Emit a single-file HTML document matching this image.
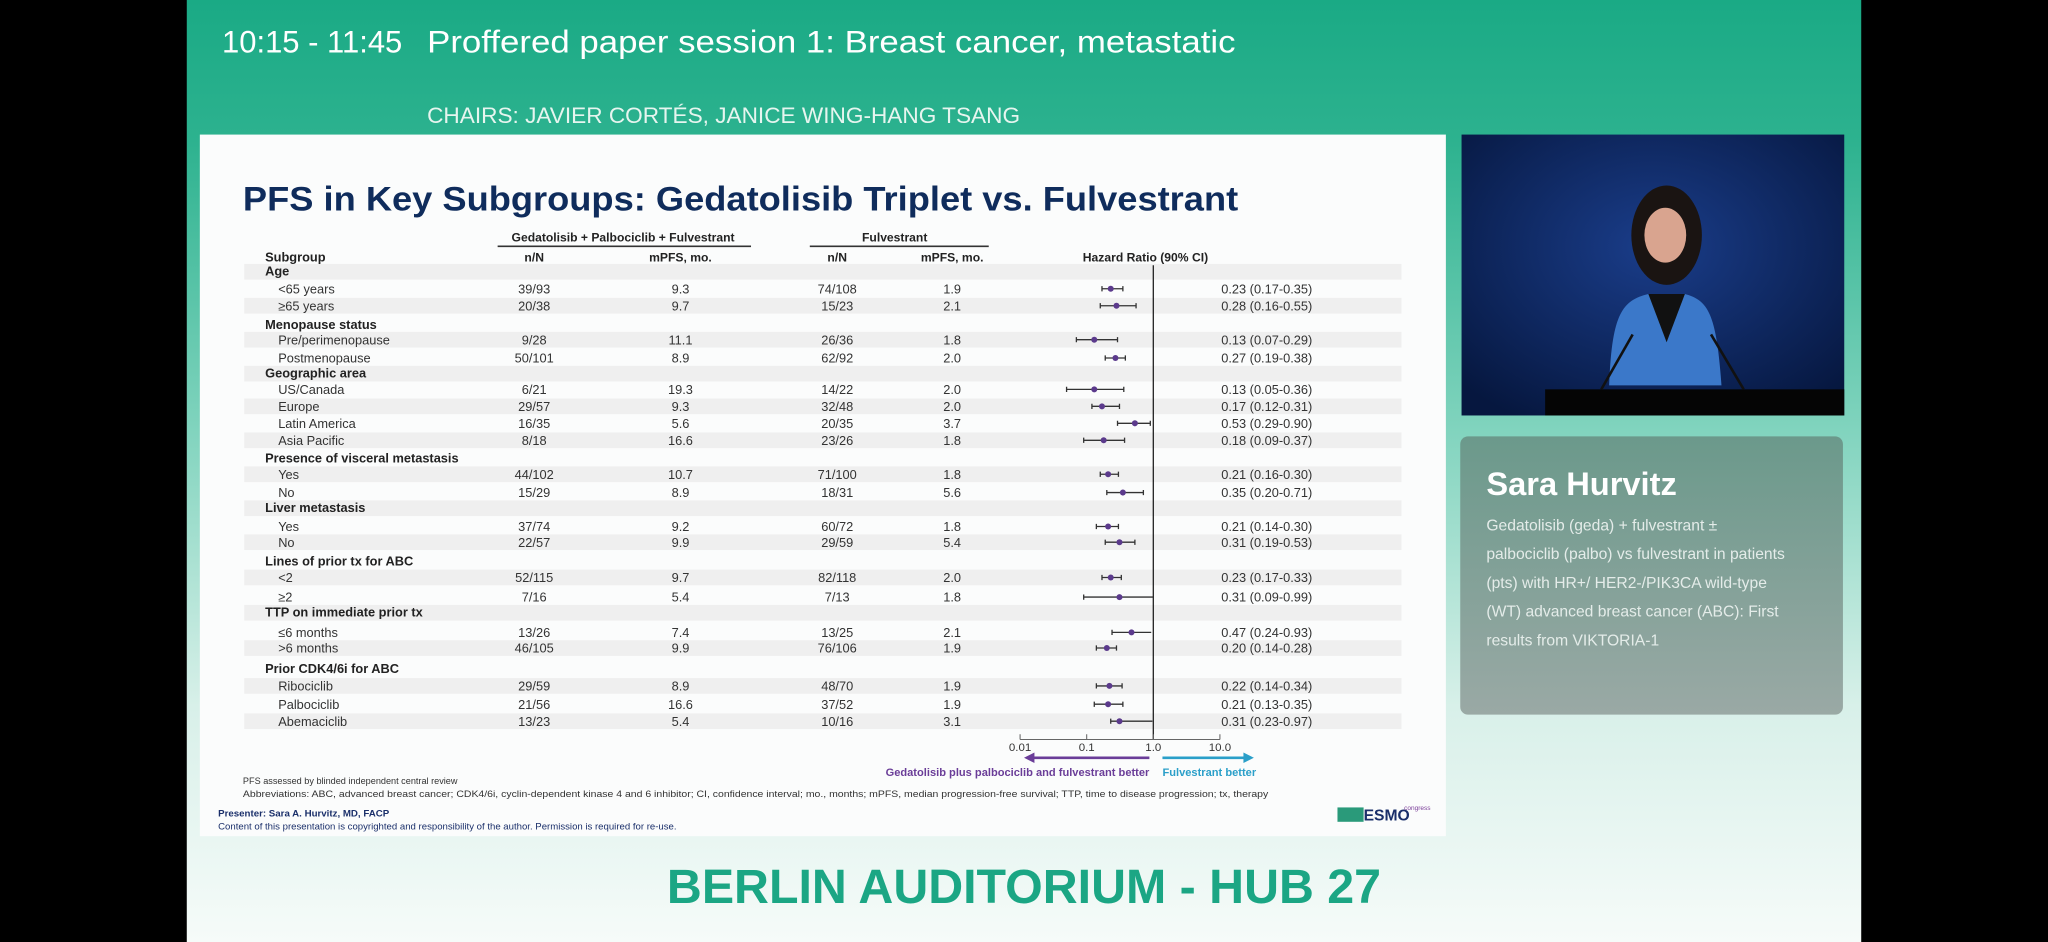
<!DOCTYPE html>
<html><head><meta charset="utf-8"><style>
html,body{margin:0;padding:0;background:#000;width:2048px;height:942px;overflow:hidden}
svg{display:block}
text{font-family:"Liberation Sans",Arial,sans-serif}
</style></head><body>
<svg width="2048" height="942" viewBox="0 0 1568 721" preserveAspectRatio="none" xmlns="http://www.w3.org/2000/svg">
<defs>
<linearGradient id="bg" x1="0" y1="0" x2="0" y2="1">
<stop offset="0" stop-color="#1aaa85"/><stop offset="0.15" stop-color="#2db28f"/><stop offset="0.45" stop-color="#7fd3bd"/><stop offset="0.75" stop-color="#d8f0e9"/><stop offset="1" stop-color="#f6fbf9"/>
</linearGradient>
<linearGradient id="card" x1="0" y1="0" x2="0" y2="1">
<stop offset="0" stop-color="#6b998b"/><stop offset="1" stop-color="#9aa9a5"/>
</linearGradient>
<radialGradient id="vid" cx="0.5" cy="0.4" r="0.7">
<stop offset="0" stop-color="#1a3d8a"/><stop offset="1" stop-color="#06173f"/>
</radialGradient>
</defs>
<rect x="0" y="0" width="1568" height="721" fill="#000"/>
<rect x="143" y="0" width="1282" height="721" fill="url(#bg)"/>
<text x="170" y="40" font-size="24" fill="#fff" textLength="138" lengthAdjust="spacingAndGlyphs">10:15 - 11:45</text>
<text x="327" y="40" font-size="24" fill="#fff" textLength="619" lengthAdjust="spacingAndGlyphs">Proffered paper session 1: Breast cancer, metastatic</text>
<text x="327" y="94" font-size="17" fill="#e6f5ef" textLength="454" lengthAdjust="spacingAndGlyphs">CHAIRS: JAVIER CORTÉS, JANICE WING-HANG TSANG</text>

<!-- slide -->
<rect x="153" y="103" width="954" height="537" fill="#fbfcfc"/>
<text x="186" y="161" font-size="26" font-weight="bold" fill="#0f2c5c" textLength="762" lengthAdjust="spacingAndGlyphs">PFS in Key Subgroups: Gedatolisib Triplet vs. Fulvestrant</text>

<g fill="#efefef">
<rect x="187" y="202" width="886" height="12"/><rect x="187" y="228" width="886" height="12"/><rect x="187" y="254" width="886" height="12"/><rect x="187" y="280" width="886" height="12"/><rect x="187" y="305" width="886" height="12"/><rect x="187" y="331" width="886" height="12"/><rect x="187" y="357" width="886" height="12"/><rect x="187" y="383" width="886" height="12"/><rect x="187" y="409" width="886" height="12"/><rect x="187" y="436" width="886" height="12"/><rect x="187" y="463" width="886" height="12"/><rect x="187" y="490" width="886" height="12"/><rect x="187" y="519" width="886" height="12"/><rect x="187" y="546" width="886" height="12"/>
</g>

<g font-size="9.3" font-weight="bold" fill="#222" text-anchor="middle">
<text x="477" y="185">Gedatolisib + Palbociclib + Fulvestrant</text>
<text x="685" y="185">Fulvestrant</text>
<text x="409" y="200">n/N</text><text x="521" y="200">mPFS, mo.</text>
<text x="641" y="200">n/N</text><text x="729" y="200">mPFS, mo.</text>
<text x="877" y="200">Hazard Ratio (90% CI)</text>
</g>
<line x1="381" y1="188.5" x2="575" y2="188.5" stroke="#333" stroke-width="1.2"/>
<line x1="620" y1="188.5" x2="757" y2="188.5" stroke="#333" stroke-width="1.2"/>

<g font-size="9.8" font-weight="bold" fill="#222">
<text x="203" y="200">Subgroup</text>
<text x="203" y="211">Age</text>
<text x="203" y="252">Menopause status</text>
<text x="203" y="289">Geographic area</text>
<text x="203" y="354">Presence of visceral metastasis</text>
<text x="203" y="392">Liver metastasis</text>
<text x="203" y="433">Lines of prior tx for ABC</text>
<text x="203" y="472">TTP on immediate prior tx</text>
<text x="203" y="515">Prior CDK4/6i for ABC</text>
</g>
<g font-size="9.8" fill="#333">
<text x="213" y="224.5">&lt;65 years</text><text x="213" y="237.5">≥65 years</text>
<text x="213" y="263.5">Pre/perimenopause</text><text x="213" y="277.5">Postmenopause</text>
<text x="213" y="301.5">US/Canada</text><text x="213" y="314.5">Europe</text><text x="213" y="327.5">Latin America</text><text x="213" y="340.5">Asia Pacific</text>
<text x="213" y="366.5">Yes</text><text x="213" y="380.5">No</text>
<text x="213" y="406.5">Yes</text><text x="213" y="418.5">No</text>
<text x="213" y="445.5">&lt;2</text><text x="213" y="460.5">≥2</text>
<text x="213" y="487.5">≤6 months</text><text x="213" y="499.5">&gt;6 months</text>
<text x="213" y="528.5">Ribociclib</text><text x="213" y="542.5">Palbociclib</text><text x="213" y="555.5">Abemaciclib</text>
</g>
<g font-size="9.8" fill="#333" text-anchor="middle">
<text x="409" y="224.5">39/93</text><text x="521" y="224.5">9.3</text><text x="641" y="224.5">74/108</text><text x="729" y="224.5">1.9</text>
<text x="409" y="237.5">20/38</text><text x="521" y="237.5">9.7</text><text x="641" y="237.5">15/23</text><text x="729" y="237.5">2.1</text>
<text x="409" y="263.5">9/28</text><text x="521" y="263.5">11.1</text><text x="641" y="263.5">26/36</text><text x="729" y="263.5">1.8</text>
<text x="409" y="277.5">50/101</text><text x="521" y="277.5">8.9</text><text x="641" y="277.5">62/92</text><text x="729" y="277.5">2.0</text>
<text x="409" y="301.5">6/21</text><text x="521" y="301.5">19.3</text><text x="641" y="301.5">14/22</text><text x="729" y="301.5">2.0</text>
<text x="409" y="314.5">29/57</text><text x="521" y="314.5">9.3</text><text x="641" y="314.5">32/48</text><text x="729" y="314.5">2.0</text>
<text x="409" y="327.5">16/35</text><text x="521" y="327.5">5.6</text><text x="641" y="327.5">20/35</text><text x="729" y="327.5">3.7</text>
<text x="409" y="340.5">8/18</text><text x="521" y="340.5">16.6</text><text x="641" y="340.5">23/26</text><text x="729" y="340.5">1.8</text>
<text x="409" y="366.5">44/102</text><text x="521" y="366.5">10.7</text><text x="641" y="366.5">71/100</text><text x="729" y="366.5">1.8</text>
<text x="409" y="380.5">15/29</text><text x="521" y="380.5">8.9</text><text x="641" y="380.5">18/31</text><text x="729" y="380.5">5.6</text>
<text x="409" y="406.5">37/74</text><text x="521" y="406.5">9.2</text><text x="641" y="406.5">60/72</text><text x="729" y="406.5">1.8</text>
<text x="409" y="418.5">22/57</text><text x="521" y="418.5">9.9</text><text x="641" y="418.5">29/59</text><text x="729" y="418.5">5.4</text>
<text x="409" y="445.5">52/115</text><text x="521" y="445.5">9.7</text><text x="641" y="445.5">82/118</text><text x="729" y="445.5">2.0</text>
<text x="409" y="460.5">7/16</text><text x="521" y="460.5">5.4</text><text x="641" y="460.5">7/13</text><text x="729" y="460.5">1.8</text>
<text x="409" y="487.5">13/26</text><text x="521" y="487.5">7.4</text><text x="641" y="487.5">13/25</text><text x="729" y="487.5">2.1</text>
<text x="409" y="499.5">46/105</text><text x="521" y="499.5">9.9</text><text x="641" y="499.5">76/106</text><text x="729" y="499.5">1.9</text>
<text x="409" y="528.5">29/59</text><text x="521" y="528.5">8.9</text><text x="641" y="528.5">48/70</text><text x="729" y="528.5">1.9</text>
<text x="409" y="542.5">21/56</text><text x="521" y="542.5">16.6</text><text x="641" y="542.5">37/52</text><text x="729" y="542.5">1.9</text>
<text x="409" y="555.5">13/23</text><text x="521" y="555.5">5.4</text><text x="641" y="555.5">10/16</text><text x="729" y="555.5">3.1</text>
</g>
<g font-size="9.8" fill="#333">
<text x="935" y="224.5">0.23 (0.17-0.35)</text><text x="935" y="237.5">0.28 (0.16-0.55)</text>
<text x="935" y="263.5">0.13 (0.07-0.29)</text><text x="935" y="277.5">0.27 (0.19-0.38)</text>
<text x="935" y="301.5">0.13 (0.05-0.36)</text><text x="935" y="314.5">0.17 (0.12-0.31)</text><text x="935" y="327.5">0.53 (0.29-0.90)</text><text x="935" y="340.5">0.18 (0.09-0.37)</text>
<text x="935" y="366.5">0.21 (0.16-0.30)</text><text x="935" y="380.5">0.35 (0.20-0.71)</text>
<text x="935" y="406.5">0.21 (0.14-0.30)</text><text x="935" y="418.5">0.31 (0.19-0.53)</text>
<text x="935" y="445.5">0.23 (0.17-0.33)</text><text x="935" y="460.5">0.31 (0.09-0.99)</text>
<text x="935" y="487.5">0.47 (0.24-0.93)</text><text x="935" y="499.5">0.20 (0.14-0.28)</text>
<text x="935" y="528.5">0.22 (0.14-0.34)</text><text x="935" y="542.5">0.21 (0.13-0.35)</text><text x="935" y="555.5">0.31 (0.23-0.97)</text>
</g>

<!-- forest -->
<line x1="883" y1="203" x2="883" y2="566" stroke="#222" stroke-width="1"/>
<g stroke="#333" stroke-width="1">
<path d="M843.7 221H859.7M843.7 219V223M859.7 219V223"/>
<path d="M842.4 234H869.8M842.4 232V236M869.8 232V236"/>
<path d="M824.1 260H855.6M824.1 258V262M855.6 258V262"/>
<path d="M846.2 274H861.6M846.2 272V276M861.6 272V276"/>
<path d="M816.6 298H860.4M816.6 296V300M860.4 296V300"/>
<path d="M836 311H857.1M836 309V313M857.1 309V313"/>
<path d="M855.6 324H880.7M855.6 322V326M880.7 322V326"/>
<path d="M829.7 337H861M829.7 335V339M861 335V339"/>
<path d="M842.4 363H856.3M842.4 361V365M856.3 361V365"/>
<path d="M847.4 377H875.4M847.4 375V379M875.4 375V379"/>
<path d="M839.4 403H856.3M839.4 401V405M856.3 401V405"/>
<path d="M846.2 415H868.9M846.2 413V417M868.9 413V417"/>
<path d="M843.7 442H858.5M843.7 440V444M858.5 440V444"/>
<path d="M829.7 457H882.8M829.7 455V459"/>
<path d="M851.4 484H881.4M851.4 482V486"/>
<path d="M839.4 496H854.8M839.4 494V498M854.8 494V498"/>
<path d="M839.4 525H859.1M839.4 523V527M859.1 523V527"/>
<path d="M837.8 539H859.7M837.8 537V541M859.7 537V541"/>
<path d="M850.4 552H882.3M850.4 550V554"/>
</g>
<g fill="#5b3a8c">
<circle cx="850.4" cy="221" r="2.3"/><circle cx="854.8" cy="234" r="2.3"/><circle cx="837.8" cy="260" r="2.3"/><circle cx="854" cy="274" r="2.3"/>
<circle cx="837.8" cy="298" r="2.3"/><circle cx="843.7" cy="311" r="2.3"/><circle cx="868.9" cy="324" r="2.3"/><circle cx="845" cy="337" r="2.3"/>
<circle cx="848.4" cy="363" r="2.3"/><circle cx="859.7" cy="377" r="2.3"/><circle cx="848.4" cy="403" r="2.3"/><circle cx="857.1" cy="415" r="2.3"/>
<circle cx="850.4" cy="442" r="2.3"/><circle cx="857.1" cy="457" r="2.3"/><circle cx="866.3" cy="484" r="2.3"/><circle cx="847.4" cy="496" r="2.3"/>
<circle cx="849.4" cy="525" r="2.3"/><circle cx="848.4" cy="539" r="2.3"/><circle cx="857.1" cy="552" r="2.3"/>
</g>
<path d="M781 566H934M781 562V566M832 562V566M883 562V566M934 562V566" stroke="#666" stroke-width="0.8" fill="none"/>
<g font-size="8.8" fill="#333" text-anchor="middle">
<text x="781" y="575">0.01</text><text x="832" y="575">0.1</text><text x="883" y="575">1.0</text><text x="934" y="575">10.0</text>
</g>
<line x1="790" y1="580" x2="880" y2="580" stroke="#6a3d98" stroke-width="2"/>
<path d="M784 580L792 576V584Z" fill="#6a3d98"/>
<line x1="890" y1="580" x2="954" y2="580" stroke="#2a9fc9" stroke-width="2"/>
<path d="M960 580L952 576V584Z" fill="#2a9fc9"/>
<text x="880" y="594" font-size="8.5" font-weight="bold" fill="#6a3d98" text-anchor="end">Gedatolisib plus palbociclib and fulvestrant better</text>
<text x="890" y="594" font-size="8.5" font-weight="bold" fill="#2a9fc9">Fulvestrant better</text>

<text x="186" y="600" font-size="7" fill="#333">PFS assessed by blinded independent central review</text>
<text x="186" y="610" font-size="7" fill="#333" textLength="785" lengthAdjust="spacingAndGlyphs">Abbreviations: ABC, advanced breast cancer; CDK4/6i, cyclin-dependent kinase 4 and 6 inhibitor; CI, confidence interval; mo., months; mPFS, median progression-free survival; TTP, time to disease progression; tx, therapy</text>
<text x="167" y="625" font-size="7" font-weight="bold" fill="#1a2f6a" textLength="131" lengthAdjust="spacingAndGlyphs">Presenter: Sara A. Hurvitz, MD, FACP</text>
<text x="167" y="635" font-size="6.8" fill="#1a2f6a" textLength="351" lengthAdjust="spacingAndGlyphs">Content of this presentation is copyrighted and responsibility of the author. Permission is required for re-use.</text>
<rect x="1024" y="618" width="20" height="11" fill="#2a9a7a"/>
<text x="1044" y="628" font-size="12" font-weight="bold" fill="#1a2f6a">ESMO</text>
<text x="1075" y="620" font-size="5" fill="#7a3d98">congress</text>

<!-- video -->
<rect x="1119" y="103" width="293" height="215" fill="url(#vid)"/>
<path d="M1232 295 C1234 240 1242 230 1262 225 L1290 225 C1308 230 1314 240 1318 295Z" fill="#3b78c9"/>
<path d="M1262 225 L1276 262 L1290 225Z" fill="#111"/>
<ellipse cx="1276" cy="180" rx="27" ry="38" fill="#1a1412"/>
<ellipse cx="1275" cy="180" rx="16" ry="21" fill="#d9a48f"/>
<rect x="1183" y="298" width="229" height="20" fill="#050505"/>
<line x1="1226" y1="298" x2="1250" y2="256" stroke="#111" stroke-width="2"/>
<line x1="1335" y1="298" x2="1310" y2="256" stroke="#111" stroke-width="2"/>

<!-- card -->
<rect x="1118" y="334" width="293" height="213" rx="6" fill="url(#card)"/>
<text x="1138" y="379" font-size="25" font-weight="bold" fill="#fff">Sara Hurvitz</text>
<g font-size="12" fill="#e4ece9">
<text x="1138" y="406">Gedatolisib (geda) + fulvestrant ±</text>
<text x="1138" y="428">palbociclib (palbo) vs fulvestrant in patients</text>
<text x="1138" y="450">(pts) with HR+/ HER2-/PIK3CA wild-type</text>
<text x="1138" y="472">(WT) advanced breast cancer (ABC): First</text>
<text x="1138" y="494">results from VIKTORIA-1</text>
</g>

<text x="784" y="691" font-size="37" font-weight="bold" fill="#1ba684" text-anchor="middle">BERLIN AUDITORIUM - HUB 27</text>
</svg>
</body></html>
